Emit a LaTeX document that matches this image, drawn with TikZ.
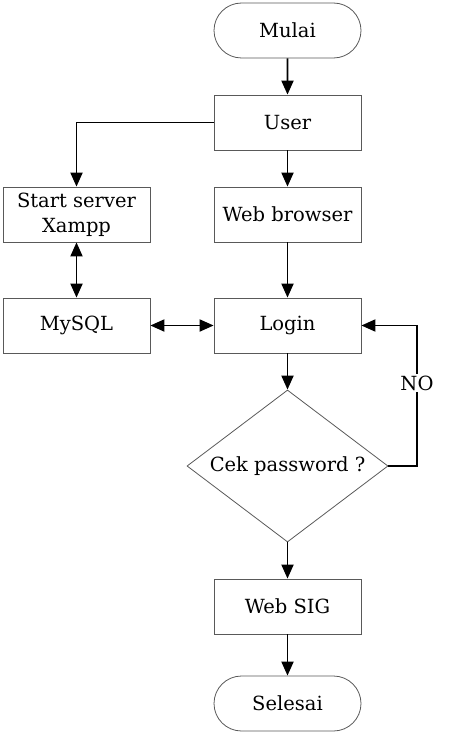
\documentclass[tikz,border=0pt]{standalone}
\usepackage{amsmath}
\usepackage{xcolor}
\usepackage{fontspec}
\setmainfont{DejaVu Serif}
\usetikzlibrary{arrows.meta,shapes.geometric,shapes.misc}

\begin{document}
\begin{tikzpicture}[x=1pt,y=-1pt,every text node part/.style={align=center},
  every node/.style={font=\fontsize{19.5}{25}\selectfont},
  proc/.style={draw=black!65,line width=0.8pt,minimum width=147pt,minimum height=55pt,inner sep=0pt},
  term/.style={rounded rectangle,draw=black!65,line width=0.8pt,minimum width=147pt,minimum height=55pt,inner sep=0pt},
  cond/.style={diamond,aspect=1.32,draw=black!65,line width=0.8pt,minimum width=201pt,minimum height=152pt,inner sep=0pt},
  flow/.style={line width=1.9pt,-{Triangle[length=14pt,width=12pt]}},
  biflow/.style={line width=1.9pt,{Triangle[length=14pt,width=12pt]}-{Triangle[length=14pt,width=12pt]}}]
\useasboundingbox (0,0) rectangle (474,733);
% nodes
\node [term] (mulai) at (287.5,30.5) {Mulai};
\node [proc] (user) at (287.5,122.5) {User};
\node [proc] (browser) at (287.5,214.5) {Web browser};
\node [proc] (xampp) at (76.5,214.5) {Start server\\Xampp};
\node [proc] (mysql) at (76.5,325.5) {MySQL};
\node [proc] (login) at (287.5,325.5) {Login};
\node [cond] (cek) at (287.5,466) {Cek password ?};
\node [proc] (websig) at (287.5,606.5) {Web SIG};
\node [term] (selesai) at (287.5,703.5) {Selesai};
\coordinate (turn) at (417,466);
% connectors
\draw [flow] (mulai) -- (user);
\draw [flow] (user) -- (browser);
\draw [flow] (user.west) -| (xampp.north);
\draw [biflow] (xampp) -- (mysql);
\draw [flow] (browser) -- (login);
\draw [biflow] (mysql) -- (login);
\draw [flow] (login) -- (cek);
\draw [flow] (cek.east) -- (turn) |- (login.east);
\node [fill=white,inner sep=2pt] (no) at (417,383) {NO};
\draw [flow] (cek) -- (websig);
\draw [flow] (websig) -- (selesai);
\end{tikzpicture}
\end{document}
